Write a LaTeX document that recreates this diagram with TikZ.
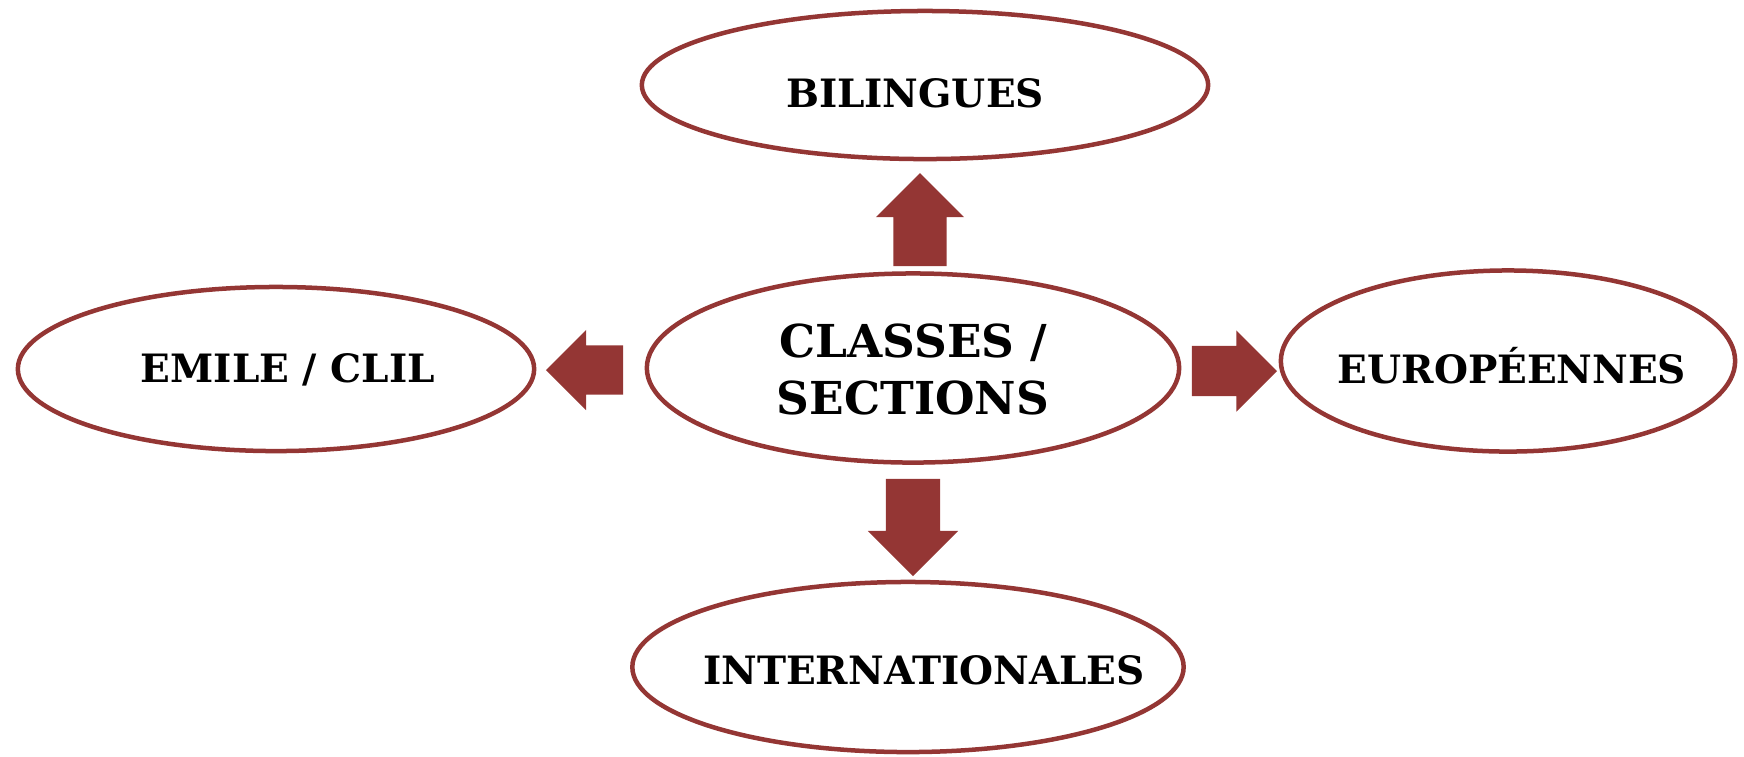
\documentclass[tikz,border=0pt]{standalone}
\usepackage{fontspec}
\setmainfont{DejaVu Serif}
\usetikzlibrary{shapes.geometric,shapes.arrows}
\definecolor{brick}{HTML}{943634}

\begin{document}
\begin{tikzpicture}[x=0.01cm,y=-0.01cm,
  bubble/.style={ellipse, draw=brick, line width=0.045cm, inner sep=0pt},
  word/.style={font=\bfseries\fontsize{11.1}{14}\selectfont, text height=0.29cm, text depth=0pt, inner sep=0pt},
  bigword/.style={font=\bfseries\fontsize{12.9}{16.2}\selectfont, align=center, inner sep=0pt},
  fat/.style={single arrow, fill=brick, inner xsep=0pt, single arrow head indent=0pt, anchor=tip}]

\useasboundingbox (0,0) rectangle (1744,756);

% ellipses
\node[bubble, minimum width=5.66cm, minimum height=1.48cm] (bil) at (925,85) {};
\node[bubble, minimum width=5.16cm, minimum height=1.64cm] (emile) at (276,369) {};
\node[bubble, minimum width=5.32cm, minimum height=1.89cm] (classes) at (913,368) {};
\node[bubble, minimum width=4.54cm, minimum height=1.81cm] (euro) at (1508,361) {};
\node[bubble, minimum width=5.51cm, minimum height=1.70cm] (inter) at (908,667) {};

% texts
\node[word] (tbil) at (915,93) {BILINGUES};
\node[word] (temile) at (288,368) {EMILE / CLIL};
\node[bigword] (tclasses) at (913,369) {CLASSES /\\SECTIONS};
\node[word] (teuro) at (1512,369) {EUROPÉENNES};
\node[word] (tinter) at (924,670) {INTERNATIONALES};

% arrows
\node[fat, rotate=90, inner ysep=0.26cm, single arrow head extend=0.175cm, minimum height=0.93cm] (up) at (920,172) {};
\node[fat, rotate=-90, inner ysep=0.265cm, single arrow head extend=0.18cm, minimum height=0.97cm] (down) at (913,577) {};
\node[fat, rotate=180, inner ysep=0.24cm, single arrow head extend=0.155cm, minimum height=0.77cm] (left) at (545,370) {};
\node[fat, inner ysep=0.245cm, single arrow head extend=0.155cm, minimum height=0.85cm] (right) at (1278,371) {};

\end{tikzpicture}
\end{document}
